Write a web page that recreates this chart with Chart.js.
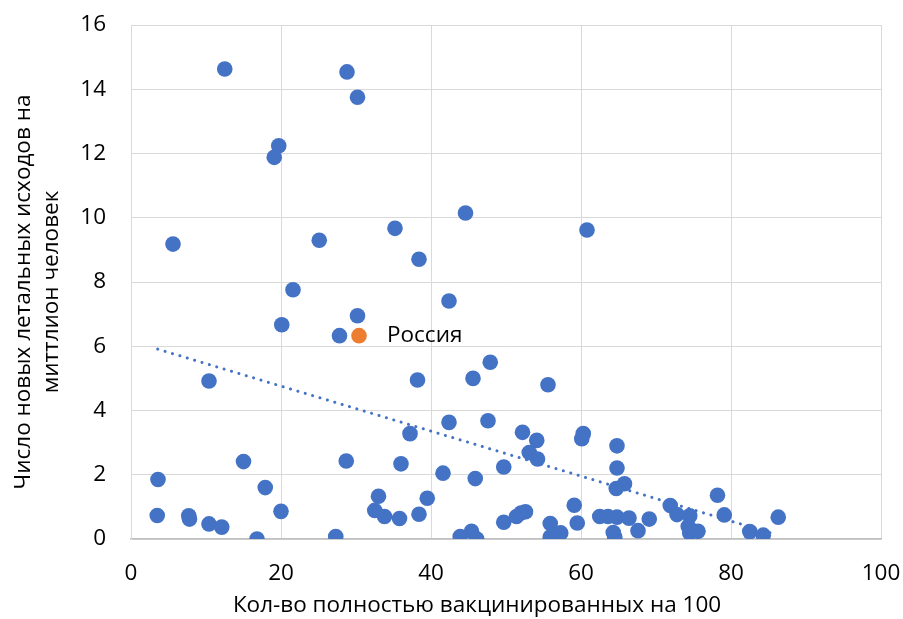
<!DOCTYPE html>
<html>
<head>
<meta charset="utf-8">
<script src="https://cdn.jsdelivr.net/npm/chart.js@4"></script>
<style>
  html, body { margin: 0; padding: 0; background: #fff; }
  #wrap { width: 903px; height: 619px; }
</style>
</head>
<body>
<div id="wrap"><canvas id="deathsChart"></canvas></div>
<script>
// fully vaccinated per 100 vs new deaths per million
const vaccX = [
  3.6, 3.5, 5.6, 7.7, 7.8, 10.4, 10.4, 12.1, 12.5, 15.0,
  16.8, 17.9, 19.1, 19.7, 20.0, 20.1, 21.6, 25.1, 27.3, 27.8,
  28.7, 28.8, 30.2, 30.2, 33.0, 32.5, 33.8, 35.2, 35.8, 36.0,
  37.2, 38.2, 38.4, 38.4, 39.5, 41.6, 42.4, 42.4, 43.9, 44.6,
  45.4, 45.6, 45.9, 46.1, 47.6, 47.9, 49.7, 49.7, 51.4, 52.0,
  52.6, 52.2, 54.1, 53.1, 54.2, 55.6, 55.9, 55.9, 57.3, 59.1,
  59.5, 60.3, 60.1, 60.8, 64.8, 64.8, 65.8, 64.7, 62.5, 63.6,
  64.8, 66.4, 64.3, 64.5, 69.1, 67.6, 71.9, 72.8, 74.5, 74.3,
  74.5, 75.6, 78.2, 79.1, 82.5, 84.3, 86.3
];
const deathsY = [
  1.85, 0.73, 9.18, 0.72, 0.62, 4.92, 0.47, 0.37, 14.63, 2.41,
  0.0, 1.6, 11.88, 12.24, 0.86, 6.67, 7.76, 9.3, 0.08, 6.33,
  2.43, 14.54, 13.75, 6.95, 1.33, 0.89, 0.7, 9.67, 0.64, 2.34,
  3.28, 4.95, 8.71, 0.77, 1.27, 2.05, 7.41, 3.63, 0.08, 10.15,
  0.24, 5.0, 1.88, 0.0, 3.68, 5.5, 2.24, 0.52, 0.7, 0.81,
  0.85, 3.32, 3.07, 2.69, 2.49, 4.8, 0.48, 0.06, 0.19, 1.05,
  0.5, 3.28, 3.12, 9.62, 2.9, 2.21, 1.72, 1.57, 0.7, 0.7,
  0.68, 0.65, 0.2, 0.06, 0.62, 0.26, 1.04, 0.76, 0.72, 0.39,
  0.19, 0.24, 1.36, 0.75, 0.23, 0.12, 0.68
];
const russiaX = [30.4];
const russiaY = [6.33];
const russiaLabel = "Россия";
// linear trendline end points
const trendX = [3.56, 85.96];
const trendY = [5.91, 0.14];

const xTitle = "Кол-во полностью вакцинированных на 100";
const yTitle = ["Число новых летальных исходов на", "миттлион человек"];

const FONT = "'Open Sans', 'Noto Sans', sans-serif";
const FONT_SIZE = 22.5;

const toPoints = (xs, ys) => xs.map((x, i) => ({ x: x, y: ys[i] }));

const titlesPlugin = {
  id: "axisTitles",
  afterDraw(chart) {
    const ctx = chart.ctx;
    const { x, y } = chart.scales;
    ctx.save();
    ctx.fillStyle = "#000";
    ctx.font = FONT_SIZE + "px " + FONT;
    ctx.textAlign = "center";
    ctx.textBaseline = "middle";
    ctx.fillText(xTitle, 477, 606);

    ctx.save();
    ctx.translate(24, 292);
    ctx.rotate(-Math.PI / 2);
    ctx.fillText(yTitle[0], 0, 0);
    ctx.fillText(yTitle[1], 0, 28);
    ctx.restore();

    // label next to the Russia point
    ctx.textAlign = "left";
    ctx.fillText(russiaLabel, x.getPixelForValue(russiaX[0]) + 28, y.getPixelForValue(russiaY[0]));
    ctx.restore();
  },
};

new Chart(document.getElementById("deathsChart"), {
  type: "scatter",
  data: {
    datasets: [
      {
        label: "trend",
        type: "line",
        data: toPoints(trendX, trendY),
        borderColor: "#4472C4",
        borderWidth: 3,
        borderDash: [0.1, 7.6],
        borderCapStyle: "round",
        pointRadius: 0,
        fill: false,
        order: 0,
      },
      {
        label: "russia",
        data: toPoints(russiaX, russiaY),
        backgroundColor: "#ED7D31",
        pointRadius: 7.8,
        borderWidth: 0,
        order: 1,
      },
      {
        label: "countries",
        data: toPoints(vaccX, deathsY),
        backgroundColor: "#4472C4",
        pointRadius: 7.8,
        borderWidth: 0,
        order: 2,
      },
    ],
  },
  options: {
    responsive: true,
    maintainAspectRatio: false,
    animation: false,
    layout: { padding: { left: 0, right: 22, top: 25, bottom: 0 } },
    plugins: {
      legend: { display: false },
      tooltip: { enabled: false },
    },
    scales: {
      x: {
        type: "linear",
        min: 0,
        max: 100,
        afterFit: (scale) => {
          scale.height = 80;
          scale.paddingLeft = 0;
          scale.paddingRight = 0;
        },
        ticks: {
          stepSize: 20,
          color: "#000",
          padding: 21,
          font: { family: FONT, size: FONT_SIZE },
          maxRotation: 0,
        },
        grid: { color: "#d9d9d9", drawTicks: false },
        border: { color: "#bfbfbf", width: 1.5 },
      },
      y: {
        type: "linear",
        min: 0,
        max: 16,
        afterFit: (scale) => {
          scale.width = 131;
          scale.paddingTop = 0;
          scale.paddingBottom = 0;
        },
        ticks: {
          stepSize: 2,
          color: "#000",
          padding: 25,
          font: { family: FONT, size: FONT_SIZE },
        },
        grid: { color: "#d9d9d9", drawTicks: false },
        border: { color: "#d9d9d9" },
      },
    },
  },
  plugins: [titlesPlugin],
});
</script>
</body>
</html>
